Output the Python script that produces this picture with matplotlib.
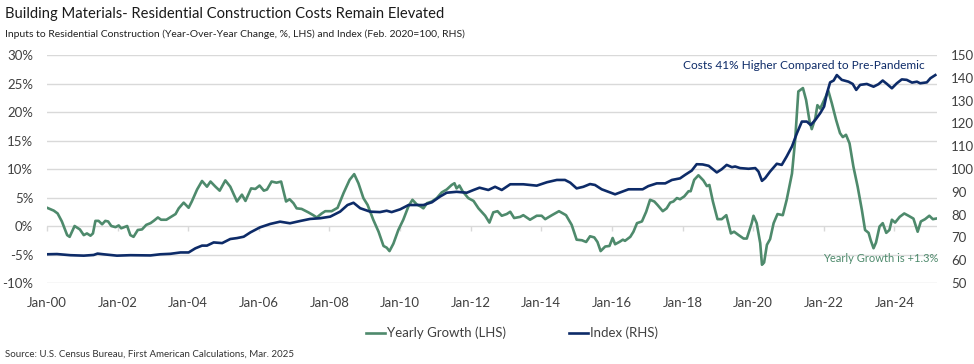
import matplotlib
matplotlib.use('Agg')
import numpy as np
from matplotlib import pyplot as plt
from matplotlib.ticker import MultipleLocator, FuncFormatter

plt.rcParams['font.family'] = ['Lato', 'DejaVu Sans']

# yearly growth of inputs to residential construction (%, LHS), decimal years
growth_t = [2000.00, 2000.19, 2000.30, 2000.42, 2000.57, 2000.64, 2000.78, 2000.93, 2001.04, 2001.13,
            2001.23, 2001.30, 2001.37, 2001.46, 2001.56, 2001.65, 2001.73, 2001.82, 2001.94, 2002.03,
            2002.10, 2002.27, 2002.36, 2002.45, 2002.57, 2002.69, 2002.81, 2002.93, 2003.02, 2003.14,
            2003.23, 2003.38, 2003.51, 2003.64, 2003.73, 2003.87, 2004.01, 2004.10, 2004.25, 2004.39,
            2004.53, 2004.63, 2004.77, 2004.89, 2005.05, 2005.19, 2005.27, 2005.38, 2005.52, 2005.62,
            2005.78, 2005.90, 2006.02, 2006.14, 2006.23, 2006.36, 2006.50, 2006.63, 2006.77, 2006.87,
            2006.98, 2007.07, 2007.21, 2007.40, 2007.54, 2007.64, 2007.78, 2007.88, 2008.06, 2008.23,
            2008.40, 2008.57, 2008.70, 2008.82, 2008.96, 2009.08, 2009.24, 2009.39, 2009.53, 2009.62,
            2009.70, 2009.81, 2009.95, 2010.09, 2010.24, 2010.35, 2010.47, 2010.59, 2010.66, 2010.76,
            2010.90, 2011.04, 2011.18, 2011.32, 2011.46, 2011.54, 2011.60, 2011.68, 2011.77, 2011.93,
            2012.08, 2012.22, 2012.41, 2012.53, 2012.64, 2012.76, 2012.88, 2013.02, 2013.12, 2013.23,
            2013.40, 2013.49, 2013.68, 2013.87, 2014.01, 2014.11, 2014.30, 2014.50, 2014.70, 2014.86,
            2015.00, 2015.15, 2015.27, 2015.38, 2015.50, 2015.59, 2015.68, 2015.81, 2015.93, 2016.02,
            2016.09, 2016.21, 2016.31, 2016.37, 2016.52, 2016.61, 2016.71, 2016.85, 2016.97, 2017.08,
            2017.20, 2017.29, 2017.44, 2017.55, 2017.65, 2017.74, 2017.84, 2017.93, 2018.05, 2018.17,
            2018.23, 2018.33, 2018.45, 2018.59, 2018.69, 2018.76, 2018.86, 2018.99, 2019.11, 2019.24,
            2019.37, 2019.46, 2019.59, 2019.73, 2019.82, 2019.96, 2020.01, 2020.10, 2020.20, 2020.25,
            2020.31, 2020.39, 2020.48, 2020.58, 2020.69, 2020.84, 2020.95, 2021.10, 2021.19, 2021.28,
            2021.41, 2021.50, 2021.60, 2021.66, 2021.76, 2021.82, 2021.90, 2022.01, 2022.13, 2022.23,
            2022.35, 2022.46, 2022.54, 2022.63, 2022.73, 2022.84, 2022.96, 2023.08, 2023.17, 2023.27,
            2023.33, 2023.41, 2023.48, 2023.58, 2023.67, 2023.77, 2023.86, 2023.93, 2024.02, 2024.15,
            2024.28, 2024.40, 2024.54, 2024.66, 2024.75, 2024.87, 2024.99, 2025.09, 2025.18]
growth = [3.2, 2.7, 2.2, 0.8, -1.6, -1.9, 0.0, -0.6, -1.6, -1.3,
          -1.7, -1.3, 0.9, 0.9, 0.3, 0.9, 0.8, 0.0, -0.2, 0.1,
          -0.4, 0.0, -1.6, -1.9, -0.7, -0.6, 0.2, 0.5, 0.9, 1.5,
          1.1, 1.1, 1.6, 2.1, 3.1, 4.1, 3.2, 4.3, 6.4, 7.9,
          6.9, 7.8, 6.9, 6.2, 8.0, 6.9, 5.8, 4.3, 5.5, 4.4,
          6.6, 6.5, 7.1, 6.2, 6.4, 7.8, 7.6, 7.8, 4.3, 4.7,
          4.0, 3.1, 3.0, 2.4, 1.9, 1.5, 2.2, 2.6, 2.6, 3.2,
          5.8, 8.1, 9.1, 7.5, 4.9, 3.7, 1.1, -1.0, -3.5, -3.8,
          -4.4, -3.1, -0.7, 1.1, 3.5, 4.6, 3.8, 3.4, 3.1, 4.0,
          4.3, 4.9, 5.9, 6.4, 7.2, 7.5, 6.6, 7.1, 6.1, 4.9,
          4.4, 3.1, 1.8, 0.6, 2.4, 2.6, 1.8, 2.1, 2.5, 1.4,
          1.6, 1.9, 1.1, 1.8, 1.8, 1.2, 1.9, 2.6, 1.9, 0.2,
          -2.4, -2.5, -2.8, -1.8, -2.0, -2.8, -4.4, -3.6, -3.5, -2.1,
          -3.2, -2.8, -2.4, -2.6, -1.9, -1.0, 0.5, 0.8, 2.5, 4.6,
          4.3, 3.7, 2.6, 3.1, 4.1, 4.3, 4.9, 4.7, 5.2, 6.1,
          6.1, 8.1, 8.9, 8.0, 7.0, 7.2, 4.3, 1.2, 1.2, 1.9,
          -1.3, -1.0, -1.6, -2.2, -2.2, 0.5, 1.8, 0.5, -3.0, -6.8,
          -6.4, -3.3, -2.3, 0.5, 2.1, 1.9, 4.6, 9.2, 15.1, 23.6,
          24.2, 22.1, 18.3, 17.0, 18.9, 21.2, 20.6, 22.1, 23.7, 21.5,
          18.6, 16.3, 15.6, 16.0, 14.5, 10.4, 6.9, 2.8, -0.7, -1.2,
          -2.5, -3.9, -2.9, -0.1, 0.5, -1.2, -0.7, 1.1, 0.6, 1.6,
          2.2, 1.8, 1.3, -1.0, 0.8, 1.2, 1.8, 1.2, 1.3]

# index, Feb. 2020 = 100 (RHS)
index_t = [2000.00, 2000.28, 2000.66, 2001.04, 2001.32, 2001.43, 2001.60, 2001.98, 2002.36, 2002.93,
           2003.21, 2003.49, 2003.78, 2004.01, 2004.20, 2004.39, 2004.53, 2004.72, 2004.96, 2005.19,
           2005.38, 2005.57, 2005.76, 2006.03, 2006.32, 2006.60, 2006.88, 2007.17, 2007.45, 2007.73,
           2008.02, 2008.30, 2008.51, 2008.68, 2008.87, 2009.15, 2009.43, 2009.62, 2009.76, 2010.00,
           2010.24, 2010.47, 2010.66, 2010.90, 2011.13, 2011.32, 2011.60, 2011.89, 2012.08, 2012.25,
           2012.50, 2012.69, 2012.88, 2013.12, 2013.49, 2013.87, 2014.16, 2014.44, 2014.67, 2014.82,
           2015.00, 2015.19, 2015.38, 2015.52, 2015.71, 2015.90, 2016.09, 2016.28, 2016.47, 2016.87,
           2017.03, 2017.27, 2017.51, 2017.70, 2017.93, 2018.07, 2018.26, 2018.40, 2018.57, 2018.74,
           2018.97, 2019.11, 2019.25, 2019.40, 2019.49, 2019.63, 2019.87, 2020.06, 2020.15, 2020.25,
           2020.34, 2020.48, 2020.67, 2020.81, 2020.95, 2021.10, 2021.24, 2021.38, 2021.52, 2021.63,
           2021.76, 2021.90, 2022.01, 2022.09, 2022.18, 2022.28, 2022.37, 2022.51, 2022.70, 2022.82,
           2022.92, 2023.03, 2023.22, 2023.41, 2023.55, 2023.67, 2023.79, 2023.93, 2024.07, 2024.21,
           2024.35, 2024.50, 2024.64, 2024.73, 2024.92, 2025.02, 2025.16]
index = [62.6, 62.7, 62.2, 62.0, 62.3, 62.9, 62.6, 62.0, 62.2, 62.1,
         62.6, 62.8, 63.4, 63.4, 65.2, 66.4, 66.4, 67.8, 67.5, 69.3,
         69.7, 70.3, 72.2, 74.4, 75.9, 76.9, 76.2, 77.2, 78.1, 78.4,
         79.1, 81.3, 84.2, 85.2, 82.8, 81.3, 81.1, 81.7, 81.1, 82.3,
         84.2, 84.2, 84.2, 85.4, 87.9, 89.6, 90.0, 89.6, 90.8, 91.8,
         90.8, 92.2, 90.8, 93.3, 93.3, 92.7, 94.2, 95.2, 95.2, 94.0,
         91.5, 92.2, 93.4, 93.0, 91.1, 90.0, 88.9, 90.0, 91.1, 91.1,
         92.5, 93.7, 93.7, 95.2, 95.9, 97.4, 99.3, 102.1, 102.0, 101.4,
         98.5, 99.9, 101.8, 100.8, 101.1, 100.4, 100.1, 100.4, 98.9, 94.8,
         96.0, 98.9, 102.3, 101.8, 105.5, 109.9, 115.7, 120.8, 120.8, 119.3,
         121.5, 124.5, 127.4, 133.2, 138.0, 138.8, 141.2, 139.1, 138.3, 137.3,
         134.7, 136.9, 137.3, 136.1, 137.2, 138.8, 137.3, 135.4, 137.6, 139.3,
         139.1, 137.9, 138.3, 137.6, 138.0, 139.8, 141.2]

tick_years = list(range(2000, 2025, 2))
tick_labels = ['Jan-%02d' % (y % 100) for y in tick_years]

green = '#4E8A6C'
navy = '#0D2B68'
grid = '#D9D9D9'
txt = '#404040'

fig = plt.figure(figsize=(9.74, 3.64), dpi=100)
ax = fig.add_axes([0.0483, 0.2225, 0.9138, 0.6264])
ax2 = ax.twinx()

l1, = ax.plot(growth_t, growth, color=green, lw=1.9, label='Yearly Growth (LHS)')
l2, = ax2.plot(index_t, index, color=navy, lw=1.9, label='Index (RHS)')

ax.set_xlim(2000, 2025.21)
ax.set_ylim(-10, 30)
ax2.set_ylim(50, 150)
ax.yaxis.set_major_locator(MultipleLocator(5))
ax.yaxis.set_major_formatter(FuncFormatter(lambda v, p: '%d%%' % v))
ax2.yaxis.set_major_locator(MultipleLocator(10))
ax.grid(axis='y', color=grid, lw=1)
ax.set_axisbelow(True)
for a in (ax, ax2):
    for s in a.spines.values():
        s.set_visible(False)
ax.tick_params(axis='y', length=0, pad=10, labelsize=9.5, labelcolor=txt)
ax2.tick_params(axis='y', length=0, pad=10, labelsize=9.5, labelcolor=txt)

ax.set_xticks(tick_years)
ax.set_xticklabels(tick_labels)
ax.tick_params(axis='x', length=0, pad=10, labelsize=9.5, labelcolor=txt)

# small tick marks on the 0% line
sec = ax.secondary_xaxis(0.25)
sec.set_xticks(tick_years)
sec.tick_params(axis='x', length=3.5, width=1, color=grid, labelbottom=False, labeltop=False)
for s in sec.spines.values():
    s.set_visible(False)

ax2.text(2018.02, 145.6, 'Costs 41% Higher Compared to Pre-Pandemic', color=navy,
         fontsize=8.6, ha='left', va='center')
ax.text(2025.24, -5.7, 'Yearly Growth is +1.3%', color=green, fontsize=8, ha='right', va='center')

fig.text(5 / 974, 1 - 14 / 364, 'Building Materials- Residential Construction Costs Remain Elevated',
         fontsize=10.6, color='#1a1a1a', va='center', ha='left')
fig.text(5 / 974, 1 - 34 / 364,
         'Inputs to Residential Construction (Year-Over-Year Change, %, LHS) and Index (Feb. 2020=100, RHS)',
         fontsize=7.5, color='#222222', va='center', ha='left')
fig.text(5 / 974, 1 - 354 / 364, 'Source: U.S. Census Bureau, First American Calculations, Mar. 2025',
         fontsize=7, color='#333333', va='center', ha='left')

fig.legend(handles=[l1, l2], loc='center', bbox_to_anchor=(512 / 974, 1 - 333 / 364), ncol=2,
           frameon=False, handlelength=1.4, handletextpad=0.15, columnspacing=4.8,
           prop={'size': 9.5}, labelcolor=txt)

fig.savefig('out.png', dpi=100)
